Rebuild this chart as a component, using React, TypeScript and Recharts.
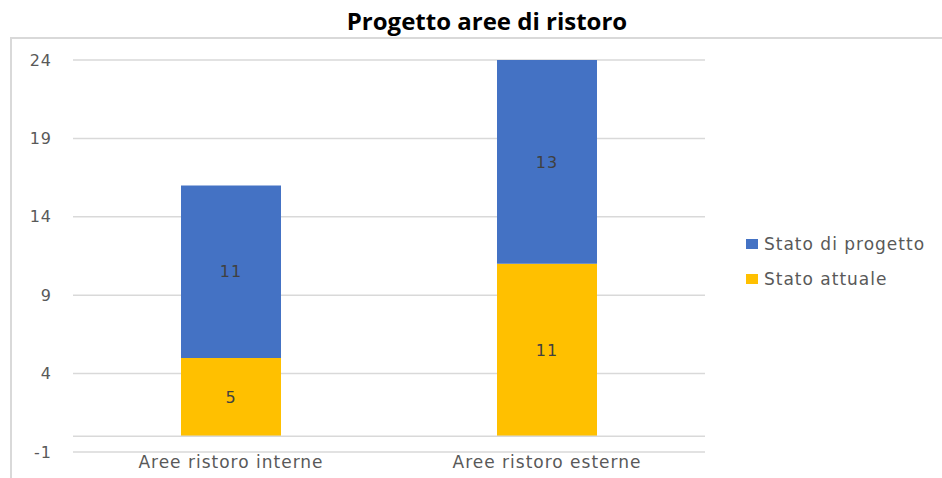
import { BarChart, Bar, XAxis, YAxis, CartesianGrid, ReferenceLine, LabelList } from 'recharts';

const categories = ['Aree ristoro interne', 'Aree ristoro esterne'];
const statoAttuale = [5, 11];
const statoProgetto = [11, 13];
const yTicks = [-1, 4, 9, 14, 19, 24];

const series = [
  { key: 'attuale', name: 'Stato attuale', color: '#FFC000' },
  { key: 'progetto', name: 'Stato di progetto', color: '#4472C4' },
];

const data = categories.map((name, i) => ({
  name,
  attuale: statoAttuale[i],
  progetto: statoProgetto[i],
}));

const font = '"DejaVu Sans", sans-serif';

function LegendBox() {
  // Excel lists the top of the stack first
  return (
    <div style={{ position: 'absolute', left: 746, top: 226, fontFamily: font }}>
      {[...series].reverse().map((s) => (
        <div key={s.key} style={{ display: 'flex', alignItems: 'center', height: 35 }}>
          <span style={{ width: 12, height: 10, background: s.color, marginRight: 6 }} />
          <span style={{ color: '#595959', fontSize: 17, letterSpacing: 1 }}>{s.name}</span>
        </div>
      ))}
    </div>
  );
}

export default function App() {
  return (
    <div style={{ position: 'absolute', left: 0, top: 0, width: 942, height: 478, background: '#fff', overflow: 'hidden' }}>
      <div
        style={{
          position: 'absolute',
          left: 10,
          top: 37,
          width: 960,
          height: 480,
          border: '2px solid #d9d9d9',
        }}
      />
      <div
        style={{
          position: 'absolute',
          left: 0,
          width: 974,
          top: 4,
          textAlign: 'center',
          fontFamily: '"Open Sans", sans-serif',
          fontWeight: 'bold',
          fontSize: 24,
          color: '#000',
        }}
      >
        Progetto aree di ristoro
      </div>
      <div style={{ position: 'absolute', left: 0, top: 0 }}>
        <BarChart
          width={942}
          height={478}
          data={data}
          margin={{ top: 60, right: 237, left: 0, bottom: 0 }}
        >
          <CartesianGrid vertical={false} stroke="#d9d9d9" strokeWidth={1.5} />
          <XAxis
            dataKey="name"
            height={26}
            tickSize={0}
            tickMargin={4}
            axisLine={false}
            tickLine={false}
            tick={{ fill: '#595959', fontSize: 17, fontFamily: font, letterSpacing: 1 }}
          />
          <YAxis
            width={73}
            domain={[-1, 24]}
            ticks={yTicks}
            interval={0}
            tickSize={0}
            tickMargin={21}
            axisLine={false}
            tickLine={false}
            tick={{ fill: '#595959', fontSize: 16, fontFamily: font, letterSpacing: 1 }}
          />
          <ReferenceLine y={0} stroke="#d9d9d9" strokeWidth={1.5} />
          {series.map((s) => (
            <Bar key={s.key} dataKey={s.key} name={s.name} stackId="a" fill={s.color} barSize={100} isAnimationActive={false}>
              <LabelList dataKey={s.key} position="center" fill="#404040" fontSize={16} fontFamily={font} letterSpacing={1} />
            </Bar>
          ))}
        </BarChart>
      </div>
      <LegendBox />
    </div>
  );
}
